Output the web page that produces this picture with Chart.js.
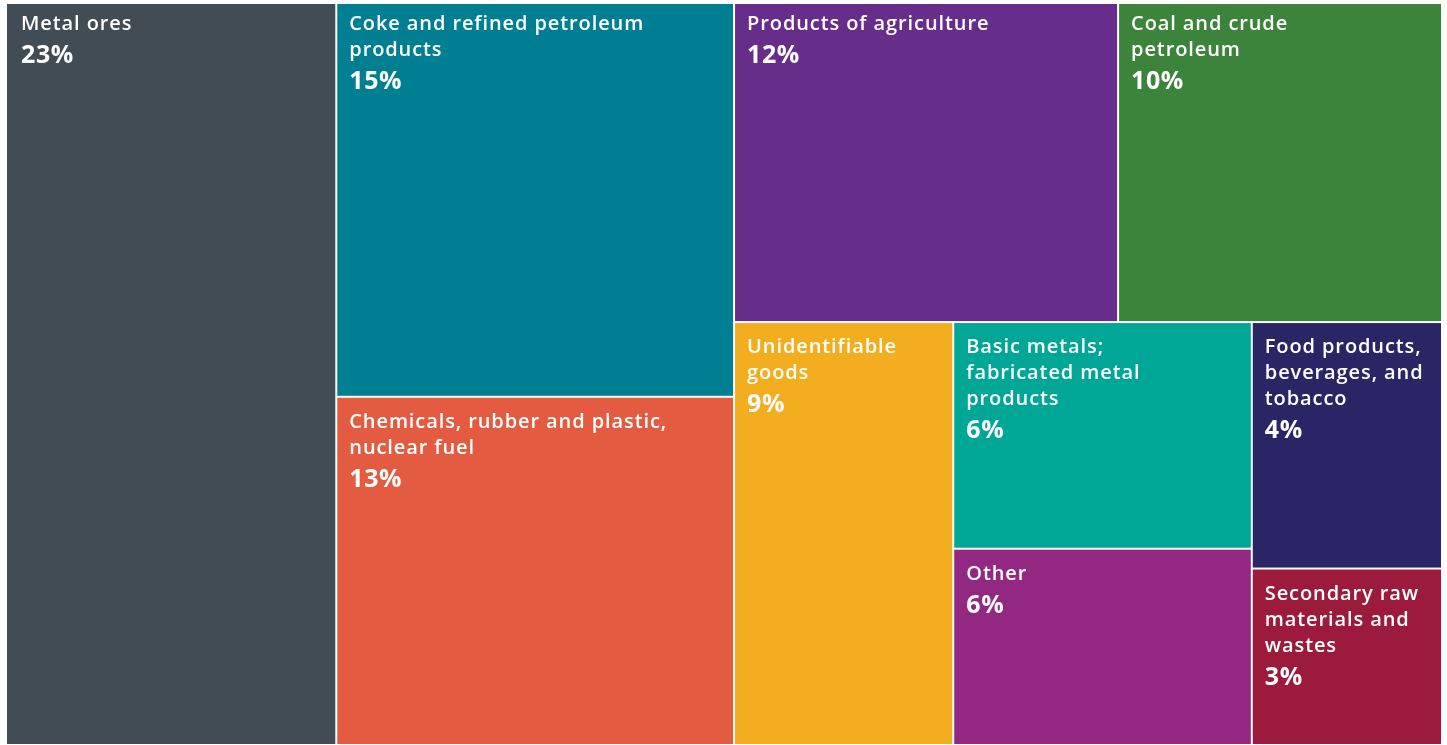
<!DOCTYPE html>
<html>
<head>
<meta charset="utf-8">
<style>
  html, body { margin: 0; padding: 0; background: #fff; }
  #wrap { width: 1447px; height: 745px; }
</style>
</head>
<body>
<div id="wrap"><canvas id="myChart"></canvas></div>
<script src="https://cdn.jsdelivr.net/npm/chart.js@4.4.1/dist/chart.umd.min.js"></script>
<script>
// share of tonnage by product group, %
const CATEGORIES = ["Metal ores", "Coke and refined petroleum products", "Chemicals, rubber and plastic, nuclear fuel",
  "Products of agriculture", "Coal and crude petroleum", "Unidentifiable goods", "Basic metals; fabricated metal products",
  "Other", "Food products, beverages, and tobacco", "Secondary raw materials and wastes"];
const LABEL_LINES = [
  ["Metal ores"],
  ["Coke and refined petroleum", "products"],
  ["Chemicals, rubber and plastic,", "nuclear fuel"],
  ["Products of agriculture"],
  ["Coal and crude", "petroleum"],
  ["Unidentifiable", "goods"],
  ["Basic metals;", "fabricated metal", "products"],
  ["Other"],
  ["Food products,", "beverages, and", "tobacco"],
  ["Secondary raw", "materials and", "wastes"]
];
const SHARES = [23.0, 14.7, 13.0, 11.5, 9.7, 8.7, 6.35, 5.5, 4.4, 3.15];
const COLORS = ["#414c55", "#007f93", "#e35b40", "#672d8a", "#3c843b", "#f2ae1e", "#00a696", "#922882", "#2a2666", "#9c1b3d"];
// how many cells go in each strip of the treemap (largest first)
const STRIPS = [1, 2, 2, 1, 2, 1, 1];

// strips go along the shorter side of what is left, like squarify
function layout(values, strips, aspect) {
  let x0 = 0, y0 = 0, x1 = aspect, y1 = 1;
  let left = values.reduce((a, b) => a + b, 0);
  const rects = [];
  let i = 0;
  strips.forEach(n => {
    const vals = values.slice(i, i + n);
    const sum = vals.reduce((a, b) => a + b, 0);
    const w = x1 - x0, h = y1 - y0;
    if (w >= h) {
      const sw = w * sum / left;
      let y = y0;
      vals.forEach(v => {
        const ch = h * v / sum;
        rects.push({x0: x0, x1: x0 + sw, y0: y, y1: y + ch});
        y += ch;
      });
      x0 += sw;
    } else {
      const sh = h * sum / left;
      let x = x0;
      vals.forEach(v => {
        const cw = w * v / sum;
        rects.push({x0: x, x1: x + cw, y0: y0, y1: y0 + sh});
        x += cw;
      });
      y0 += sh;
    }
    left -= sum;
    i += n;
  });
  return rects.map(r => ({x0: r.x0 / aspect, x1: r.x1 / aspect, y0: r.y0, y1: r.y1}));
}

const treemapPlugin = {
  id: 'treemap',
  afterDatasetsDraw(chart) {
    const {ctx, chartArea, scales} = chart;
    const aspect = chartArea.width / chartArea.height;
    const rects = layout(SHARES, STRIPS, aspect);
    const total = SHARES.reduce((a, b) => a + b, 0);
    ctx.save();
    rects.forEach((r, k) => {
      const px0 = scales.x.getPixelForValue(r.x0) + 1;
      const px1 = scales.x.getPixelForValue(r.x1) - 1;
      const py0 = scales.y.getPixelForValue(r.y0) + 1;
      const py1 = scales.y.getPixelForValue(r.y1) - 1;
      ctx.fillStyle = COLORS[k];
      ctx.fillRect(px0, py0, px1 - px0, py1 - py0);

      const padX = r.x0 < 1e-6 ? 14 : 12;
      let y = py0 + (r.y0 < 1e-6 ? 26 : 30);
      ctx.fillStyle = "#ffffff";
      ctx.textBaseline = "alphabetic";
      ctx.font = '600 20px "Open Sans"';
      ctx.letterSpacing = "0.9px";
      LABEL_LINES[k].forEach(line => {
        ctx.fillText(line, px0 + padX, y);
        y += 26;
      });
      y += 7;
      ctx.font = '700 25px "Open Sans"';
      ctx.letterSpacing = "0.6px";
      const pct = Math.round(SHARES[k] / total * 100 + 1e-9);
      ctx.fillText(pct + "%", px0 + padX, y);
    });
    ctx.restore();
  }
};

const ctx = document.getElementById("myChart").getContext("2d");
const myChart = new Chart(ctx, {
  type: "scatter",
  data: { datasets: [{ data: [] }] },
  options: {
    responsive: true,
    maintainAspectRatio: false,
    animation: false,
    layout: { padding: { left: 6, top: 3, right: 5, bottom: -1 } },
    plugins: { legend: { display: false }, tooltip: { enabled: false } },
    scales: {
      x: { type: "linear", min: 0, max: 1, display: false },
      y: { type: "linear", min: 0, max: 1, reverse: true, display: false }
    }
  },
  plugins: [treemapPlugin]
});
</script>
</body>
</html>
